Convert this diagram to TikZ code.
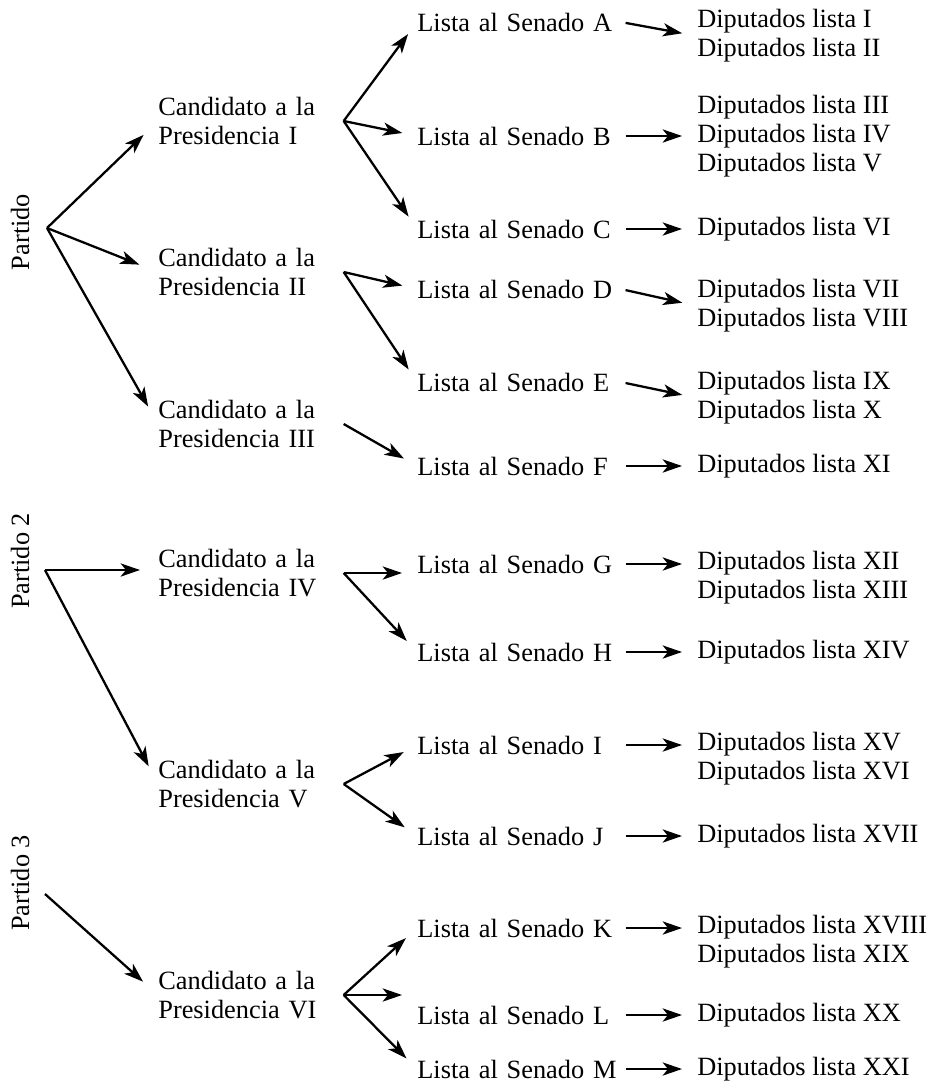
\documentclass[tikz,border=0pt]{standalone}
\usepackage{fontspec}
\setmainfont{Liberation Serif}
\usetikzlibrary{arrows.meta}

\tikzset{
  flecha/.style={-{Stealth[length=11pt,width=7.5pt,inset=3pt]}, line width=1.3pt, shorten >=0.3cm},
  partido/.style={rotate=90},
  cand/.style={anchor=west, text width=3.7cm, align=left},
  lista/.style={anchor=west, text width=4.06cm, align=left},
  dip/.style={anchor=west, align=left}
}

\begin{document}
\begin{tikzpicture}[x=0.02cm, y=-0.02cm,
    every node/.style={inner sep=0pt, font=\fontsize{15}{16.5}\selectfont}]
\useasboundingbox (0,0) rectangle (944,1088);

% partidos
\node[partido] (pa) at (20,232) {Partido};
\node[partido] (pb) at (20,561) {Partido 2};
\node[partido] (pc) at (20,883) {Partido 3};
\coordinate (p1) at (47,228);
\coordinate (p2) at (45,570);
\coordinate (p3) at (45,894);

% candidatos
\node[cand] (cI)   at (158,121) {Candidato a la\\Presidencia I};
\node[cand] (cII)  at (158,272) {Candidato a la\\Presidencia II};
\node[cand] (cIII) at (158,424) {Candidato a la\\Presidencia III};
\node[cand] (cIV)  at (158,573) {Candidato a la\\Presidencia IV};
\node[cand] (cV)   at (158,784) {Candidato a la\\Presidencia V};
\node[cand] (cVI)  at (158,995) {Candidato a la\\Presidencia VI};

% listas al senado
\foreach \n/\y in {A/22,B/136,C/229,D/289,E/382,F/466,G/564,H/652,I/745,J/836,K/928,L/1015,M/1069}
  \node[lista] (l\n) at (417,\y) {Lista al Senado \n};

% diputados
\node[dip] (dA) at (697,36)   {Diputados lista I\\Diputados lista II};
\node[dip] (dB) at (697,136)  {Diputados lista III\\Diputados lista IV\\Diputados lista V};
\node[dip] (dC) at (697,229)  {Diputados lista VI};
\node[dip] (dD) at (697,306)  {Diputados lista VII\\Diputados lista VIII};
\node[dip] (dE) at (697,398)  {Diputados lista IX\\Diputados lista X};
\node[dip] (dF) at (697,466)  {Diputados lista XI};
\node[dip] (dG) at (697,578)  {Diputados lista XII\\Diputados lista XIII};
\node[dip] (dH) at (697,652)  {Diputados lista XIV};
\node[dip] (dI) at (697,759)  {Diputados lista XV\\Diputados lista XVI};
\node[dip] (dJ) at (697,836)  {Diputados lista XVII};
\node[dip] (dK) at (697,942)  {Diputados lista XVIII\\Diputados lista XIX};
\node[dip] (dL) at (697,1015) {Diputados lista XX};
\node[dip] (dM) at (697,1069) {Diputados lista XXI};

% partido -> candidato
\draw[flecha, shorten >=0.4cm] (p1) -- (cI.west);
\draw[flecha, shorten >=0.4cm] (p1) -- (cII.west);
\draw[flecha, shorten >=0.4cm] (p1) -- (cIII.west);
\draw[flecha, shorten >=0.36cm] (p2) -- (p2 -| cIV.west);
\draw[flecha, shorten >=0.4cm] (p2) -- (cV.west);
\draw[flecha, shorten >=0.4cm] (p3) -- (cVI.west);

% candidato -> lista
\draw[flecha] (cI.east) -- (lA.west);
\draw[flecha] (cI.east) -- (lB.west);
\draw[flecha] (cI.east) -- (lC.west);
\draw[flecha] (cII.east) -- (lD.west);
\draw[flecha] (cII.east) -- (lE.west);
\draw[flecha] (cIII.east) -- (lF.west);
\draw[flecha] (cIV.east) -- (cIV.east -| lG.west);
\draw[flecha] (cIV.east) -- (lH.west);
\draw[flecha] (cV.east) -- (lI.west);
\draw[flecha] (cV.east) -- (lJ.west);
\draw[flecha] (cVI.east) -- (lK.west);
\draw[flecha] (cVI.east) -- (cVI.east -| lL.west);
\draw[flecha] (cVI.east) -- (lM.west);

% lista -> diputados
\draw[flecha, shorten <=0.1cm] (lA.east) -- (dA.west);
\draw[flecha, shorten <=0.1cm] (lD.east) -- (dD.west);
\draw[flecha, shorten <=0.1cm] (lE.east) -- (dE.west);
\foreach \n in {B,C,F,G,H,I,J,K,L,M}
  \draw[flecha, shorten <=0.1cm] (l\n.east) -- (l\n.east -| d\n.west);
\end{tikzpicture}
\end{document}
